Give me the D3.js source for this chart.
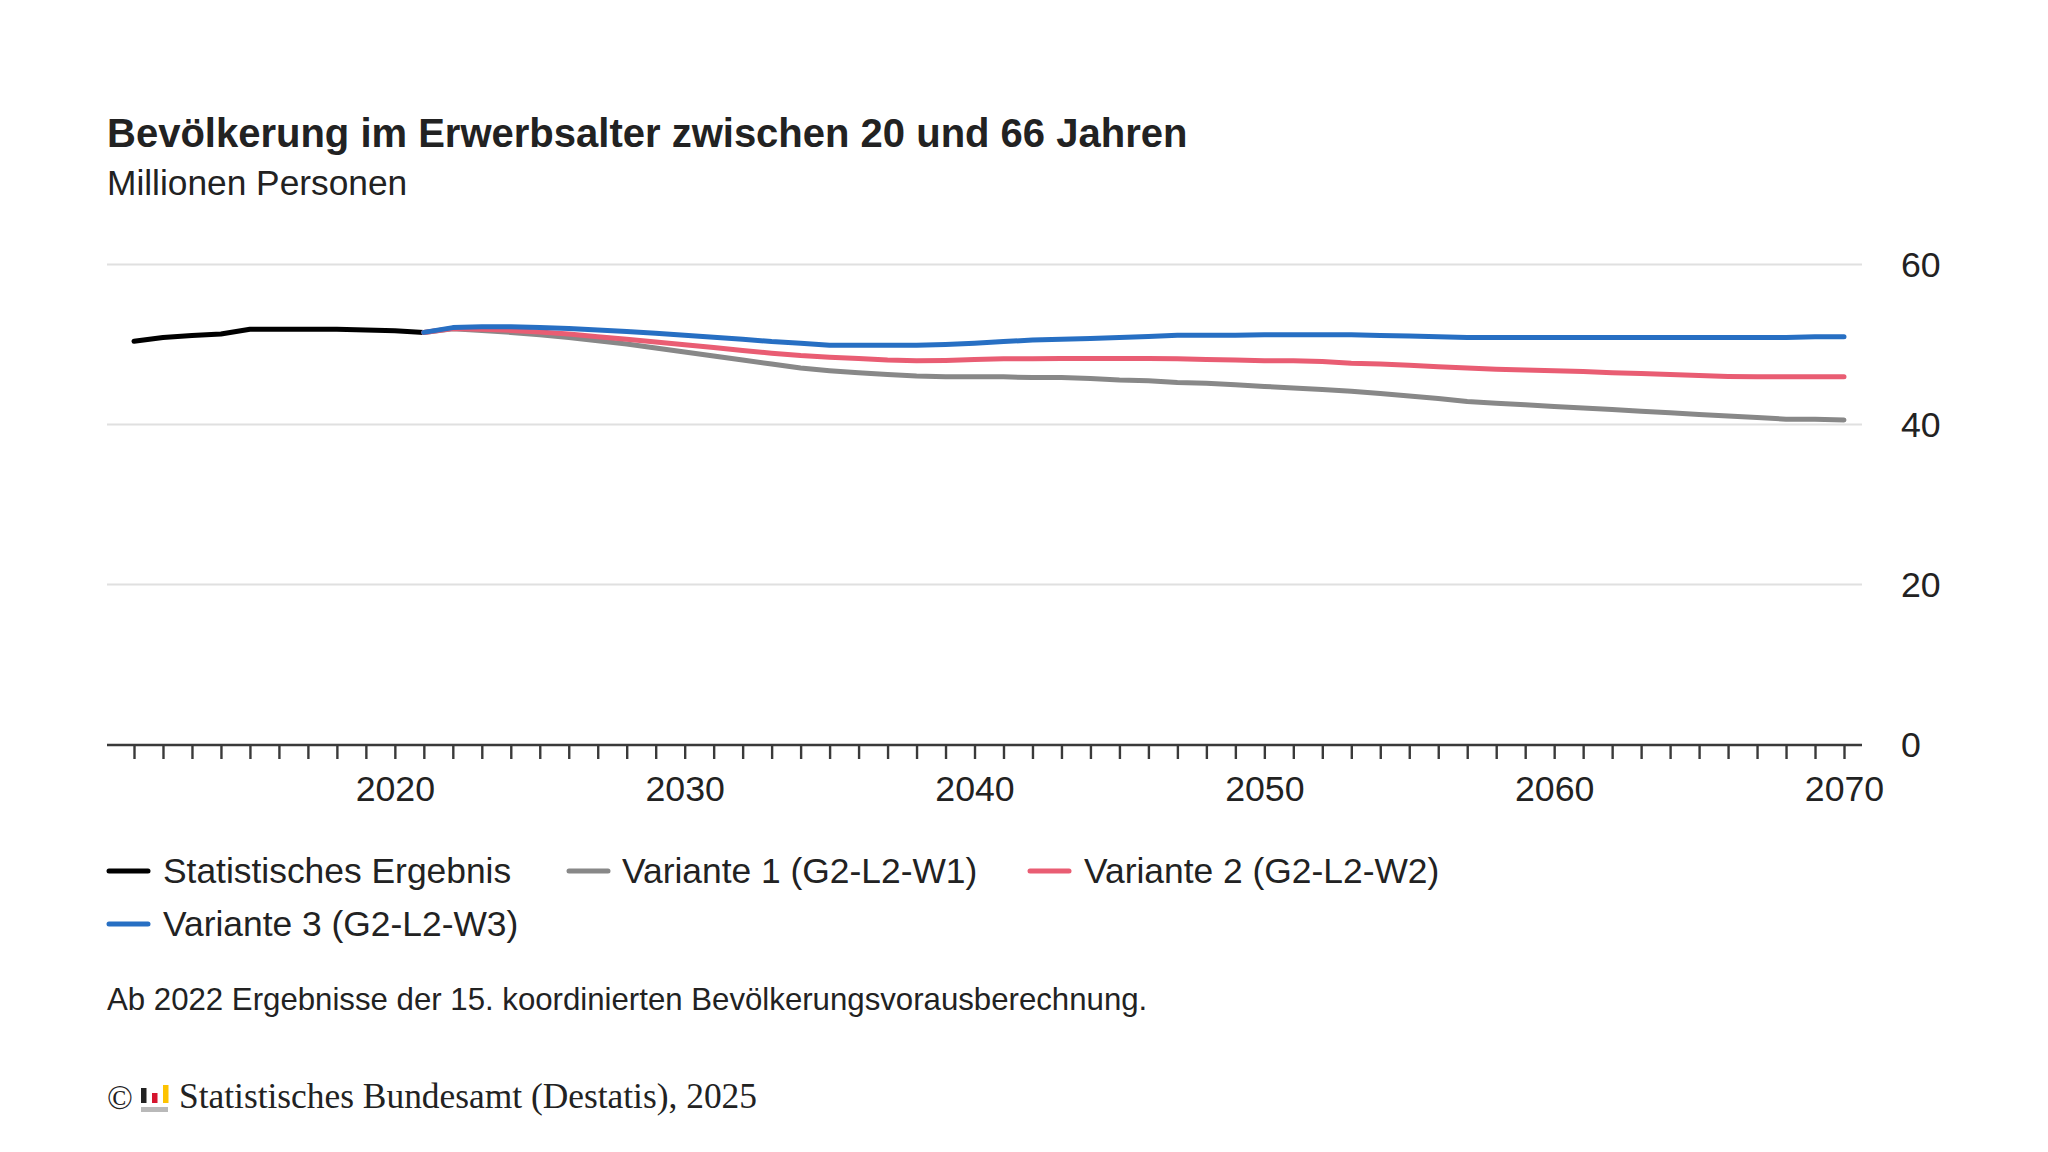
<!DOCTYPE html>
<html>
<head>
<meta charset="utf-8">
<script src="https://cdn.jsdelivr.net/npm/d3@7"></script>
<style>
  html, body { margin: 0; padding: 0; background: #fff; }
  text { font-family: "Liberation Sans", sans-serif; fill: #222; }
</style>
</head>
<body>
<div id="chart"></div>
<script>
const yearsHist = d3.range(2011, 2022);
const yearsProj = d3.range(2021, 2071);

const ergebnis = [50.35, 50.8, 51.05, 51.25, 51.85, 51.85, 51.85, 51.85, 51.75, 51.65, 51.45];

const variante1 = [51.45, 51.9, 51.7, 51.45, 51.15, 50.8, 50.4, 50.0, 49.5, 49.0,
  48.5, 48.0, 47.5, 47.0, 46.67, 46.4, 46.2, 46.0, 45.9, 45.9,
  45.9, 45.8, 45.8, 45.7, 45.5, 45.4, 45.2, 45.1, 44.9, 44.7,
  44.5, 44.3, 44.1, 43.8, 43.5, 43.2, 42.8, 42.6, 42.4, 42.2,
  42.0, 41.8, 41.6, 41.4, 41.2, 41.0, 40.8, 40.6, 40.6, 40.5];

const variante2 = [51.45, 51.95, 51.85, 51.7, 51.5, 51.25, 50.9, 50.6, 50.25, 49.9,
  49.55, 49.2, 48.85, 48.55, 48.35, 48.2, 48.0, 47.9, 47.95, 48.05,
  48.15, 48.15, 48.2, 48.2, 48.2, 48.2, 48.15, 48.05, 48.0, 47.9,
  47.9, 47.8, 47.6, 47.5, 47.35, 47.15, 47.0, 46.85, 46.75, 46.65,
  46.55, 46.4, 46.3, 46.2, 46.05, 45.95, 45.9, 45.9, 45.9, 45.9];

const variante3 = [51.45, 52.05, 52.15, 52.15, 52.05, 51.95, 51.75, 51.55, 51.35, 51.1,
  50.85, 50.6, 50.3, 50.1, 49.85, 49.85, 49.85, 49.85, 49.95, 50.1,
  50.3, 50.5, 50.6, 50.7, 50.8, 50.95, 51.1, 51.1, 51.1, 51.15,
  51.15, 51.15, 51.15, 51.05, 51.0, 50.9, 50.8, 50.8, 50.8, 50.8,
  50.8, 50.8, 50.8, 50.8, 50.8, 50.8, 50.8, 50.8, 50.9, 50.9];

const yTicks = [0, 20, 40, 60];
const xLabels = [2020, 2030, 2040, 2050, 2060, 2070];

const colors = { schwarz: "#000000", grau: "#888888", rot: "#e95d73", blau: "#276fc3" };

const width = 2048;
const height = 1152;

const svg = d3.select("#chart").append("svg")
  .attr("width", width)
  .attr("height", height)
  .style("display", "block");

svg.append("text").attr("x", 107).attr("y", 147)
  .attr("font-size", 40).attr("font-weight", 700).text("Bevölkerung im Erwerbsalter zwischen 20 und 66 Jahren");
svg.append("text").attr("x", 107).attr("y", 195)
  .attr("font-size", 35.3).text("Millionen Personen");

const x = d3.scaleLinear().domain([2011, 2070]).range([134, 1844]);
const y = d3.scaleLinear().domain([0, 60]).range([744, 264]);

// gridlines + labels on the right
const yAxis = svg.append("g")
  .attr("transform", "translate(1862,0)")
  .call(d3.axisRight(y).tickValues(yTicks).tickSize(0).tickPadding(39));
yAxis.select(".domain").remove();
yAxis.selectAll("text").attr("font-size", 35.7).attr("dy", "0.34em").style("font-family", "inherit");
yAxis.selectAll(".tick").filter(d => d > 0).append("line")
  .attr("x1", -1755).attr("x2", 0).attr("stroke", "#e0e0e0").attr("stroke-width", 2);

// x axis, one tick per year, labels only every ten years
const xAxis = svg.append("g")
  .attr("transform", "translate(0,745)")
  .call(d3.axisBottom(x).tickValues(d3.range(2011, 2071)).tickSize(14).tickPadding(17)
    .tickFormat(d => xLabels.includes(d) ? d : ""));
xAxis.select(".domain").remove();
xAxis.selectAll("line").attr("stroke", "#3a3a3a").attr("stroke-width", 2.4);
xAxis.selectAll("text").attr("font-size", 35.7).style("font-family", "inherit");
xAxis.append("line").attr("x1", 107).attr("x2", 1862)
  .attr("stroke", "#3a3a3a").attr("stroke-width", 2.4);

const line = d3.line().x(d => x(d[0])).y(d => y(d[1]));

const series = [
  { years: yearsHist, values: ergebnis, color: colors.schwarz },
  { years: yearsProj, values: variante1, color: colors.grau },
  { years: yearsProj, values: variante2, color: colors.rot },
  { years: yearsProj, values: variante3, color: colors.blau }
];

svg.selectAll(".serie").data(series).enter().append("path")
  .attr("class", "serie")
  .attr("fill", "none")
  .attr("stroke", d => d.color)
  .attr("stroke-width", 5)
  .attr("stroke-linecap", "round")
  .attr("stroke-linejoin", "round")
  .attr("d", d => line(d.years.map((yr, i) => [yr, d.values[i]])));

// legend
const legendNames = ["Statistisches Ergebnis", "Variante 1 (G2-L2-W1)", "Variante 2 (G2-L2-W2)", "Variante 3 (G2-L2-W3)"];
const legendColors = [colors.schwarz, colors.grau, colors.rot, colors.blau];
const legendX = [107, 567, 1028, 107];
const legendTextX = [56, 55, 56, 56];
const legendY = [871, 871, 871, 924];

const legend = svg.selectAll(".legend").data(legendNames).enter().append("g")
  .attr("class", "legend")
  .attr("transform", (d, i) => `translate(${legendX[i]},${legendY[i]})`);
legend.append("line").attr("x1", 2).attr("x2", 41)
  .attr("stroke", (d, i) => legendColors[i]).attr("stroke-width", 5).attr("stroke-linecap", "round");
legend.append("text").attr("x", (d, i) => legendTextX[i]).attr("y", 12).attr("font-size", 35.4).text(d => d);

svg.append("text").attr("x", 107).attr("y", 1010)
  .attr("font-size", 31.2).text("Ab 2022 Ergebnisse der 15. koordinierten Bevölkerungsvorausberechnung.");

// footer with small logo
const footer = svg.append("g");
footer.append("text").attr("x", 107).attr("y", 1109).attr("font-size", 34)
  .style("font-family", "'Liberation Serif', serif").text("©");
const logoX = [141, 152, 163];
const logoY = [1088, 1093, 1085];
const logoColors = ["#222222", "#d5152e", "#fdc300"];
logoX.forEach((lx, i) => {
  footer.append("rect").attr("x", lx).attr("y", logoY[i]).attr("width", 5.5).attr("height", 1103 - logoY[i]).attr("fill", logoColors[i]);
});
footer.append("rect").attr("x", 141).attr("y", 1107).attr("width", 27).attr("height", 5).attr("fill", "#b9b9b9");
footer.append("text").attr("x", 179).attr("y", 1108).attr("font-size", 35.4)
  .style("font-family", "'Liberation Serif', serif").text("Statistisches Bundesamt (Destatis), 2025");
</script>
</body>
</html>
